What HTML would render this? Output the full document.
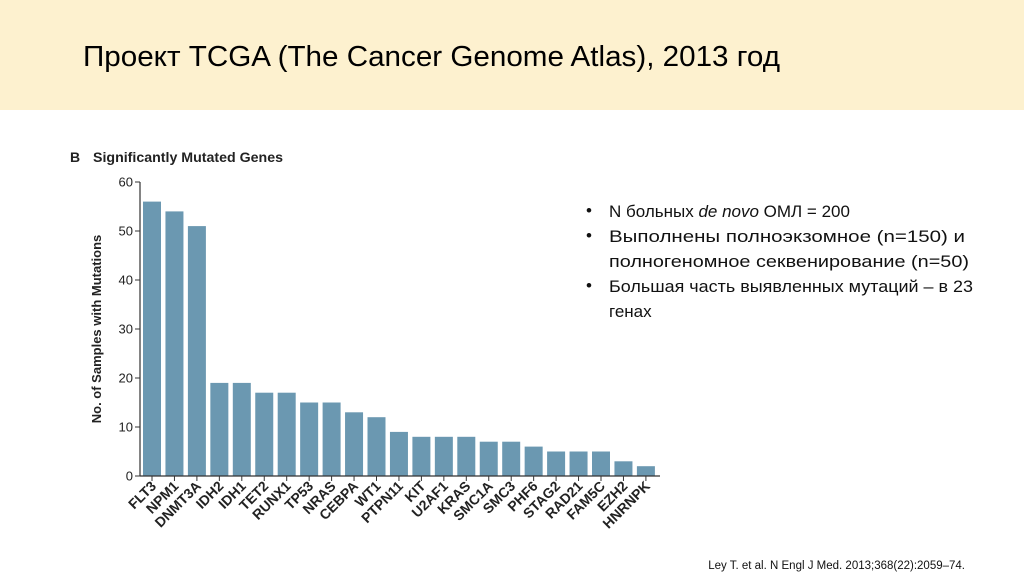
<!DOCTYPE html>
<html><head><meta charset="utf-8"><style>
html,body{margin:0;padding:0;background:#fff;}
svg{display:block;font-family:"Liberation Sans",sans-serif;}
</style></head><body>
<svg width="1024" height="574" viewBox="0 0 1024 574">
<rect x="0" y="0" width="1024" height="110" fill="#fdf1cf"/>
<text x="83" y="66" font-size="29" fill="#000" textLength="697" lengthAdjust="spacingAndGlyphs">Проект TCGA (The Cancer Genome Atlas), 2013 год</text>
<text x="70" y="162" font-size="14" font-weight="bold" fill="#222">B</text>
<text x="93" y="162" font-size="13.5" font-weight="bold" fill="#222" textLength="190" lengthAdjust="spacingAndGlyphs">Significantly Mutated Genes</text>
<g id="chart"></g>
<g font-size="17" fill="#111">
<text x="586" y="216">•</text>
<text x="609" y="217">N больных <tspan font-style="italic">de novo</tspan> ОМЛ = 200</text>
<text x="586" y="241">•</text>
<text x="609" y="242" textLength="356" lengthAdjust="spacingAndGlyphs">Выполнены полноэкзомное (n=150) и</text>
<text x="609" y="267" textLength="360" lengthAdjust="spacingAndGlyphs">полногеномное секвенирование (n=50)</text>
<text x="586" y="291">•</text>
<text x="609" y="292" textLength="364" lengthAdjust="spacingAndGlyphs">Большая часть выявленных мутаций – в 23</text>
<text x="609" y="317">генах</text>
</g>
<text x="965" y="569" font-size="11.5" fill="#111" text-anchor="end">Ley T. et al. N Engl J Med. 2013;368(22):2059–74.</text>
</svg>
<script>
const genes = ["FLT3","NPM1","DNMT3A","IDH2","IDH1","TET2","RUNX1","TP53","NRAS","CEBPA","WT1","PTPN11","KIT","U2AF1","KRAS","SMC1A","SMC3","PHF6","STAG2","RAD21","FAM5C","EZH2","HNRNPK"];
const counts = [56,54,51,19,19,17,17,15,15,13,12,9,8,8,8,7,7,6,5,5,5,3,2];
const yTicks = [0,10,20,30,40,50,60];

const NS = "http://www.w3.org/2000/svg";
const g = document.getElementById("chart");
const x0 = 140, pitch = 22.45, bw = 18, yBase = 476, yTop = 182, yMax = 60;
function y(v){ return yBase - v/yMax*(yBase-yTop); }
function xc(i){ return x0 + 3 + pitch*i + bw/2; }
function mk(tag, attrs){ const e = document.createElementNS(NS, tag); for (const k in attrs) e.setAttribute(k, attrs[k]); g.appendChild(e); return e; }

counts.forEach((v,i)=>{
  const r = mk("rect",{x:xc(i)-bw/2,y:y(v),width:bw,height:yBase-y(v),fill:"#6b98b1"});
  
  
  const t = mk("line",{x1:xc(i),x2:xc(i),y1:yBase,y2:yBase+5,stroke:"#333","stroke-width":1});
  
  
  const lx = xc(i)+5, ly = yBase+11;
  const l = mk("text",{x:lx,y:ly,"text-anchor":"end","font-size":"14","font-weight":"bold",fill:"#222",transform:`rotate(-45 ${lx} ${ly})`});
  l.textContent = genes[i];
  
  
});
const ax = mk("line",{x1:x0,x2:x0,y1:yTop,y2:yBase,stroke:"#333","stroke-width":1.2});


const bx = mk("line",{x1:x0,x2:660,y1:yBase,y2:yBase,stroke:"#333","stroke-width":1.2});


yTicks.forEach(v=>{
  const t = mk("line",{x1:x0-5,x2:x0,y1:y(v),y2:y(v),stroke:"#333","stroke-width":1});
  
  
  const l = mk("text",{x:x0-7,y:y(v)+4.5,"text-anchor":"end","font-size":"13",fill:"#222"});
  l.textContent = v;
  
  
});
const yt = mk("text",{x:0,y:0,"text-anchor":"middle","font-size":"13","font-weight":"bold",fill:"#222",transform:"translate(101 329) rotate(-90)"});
yt.textContent = "No. of Samples with Mutations";


</script>
</body></html>
